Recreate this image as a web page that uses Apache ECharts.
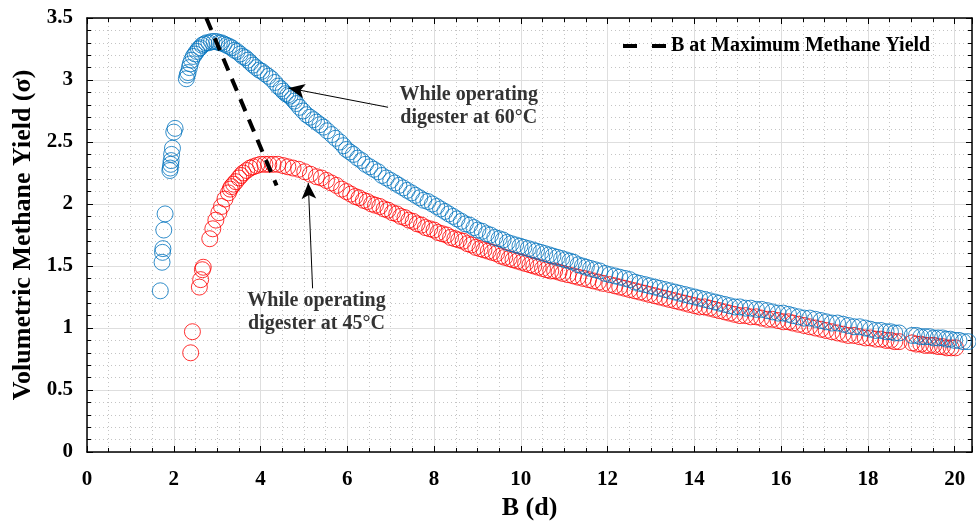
<!DOCTYPE html>
<html>
<head>
<meta charset="utf-8">
<script src="https://cdn.jsdelivr.net/npm/echarts@6/dist/echarts.min.js"></script>
<style>
  html, body { margin: 0; padding: 0; background: #fff; }
  #chart { width: 976px; height: 521px; }
</style>
</head>
<body>
<div id="chart"></div>
<script>
// Volumetric methane yield versus B for two digester temperatures
const seriesNames = ['While operating digester at 60°C', 'While operating digester at 45°C', 'B at Maximum Methane Yield'];

const yield60C = [
  [1.69,1.30],[1.73,1.53],[1.74,1.61],[1.75,1.64],[1.77,1.79],[1.80,1.92],[1.91,2.27],[1.92,2.29],
  [1.93,2.32],[1.94,2.35],[1.95,2.40],[1.97,2.45],[2.00,2.58],[2.03,2.61],
  [2.29,3.01],[2.31,3.04],[2.33,3.06],[2.36,3.10],[2.38,3.13],[2.41,3.16],[2.45,3.19],[2.49,3.21],
  [2.53,3.23],[2.57,3.25],[2.61,3.26],[2.65,3.28],[2.70,3.29],[2.75,3.30],[2.81,3.30],[2.87,3.31],
  [2.93,3.31],[2.99,3.31],[3.05,3.30],[3.10,3.30],[3.16,3.29],[3.22,3.28],[3.28,3.27],[3.34,3.26],
  [3.40,3.24],[3.46,3.23],[3.53,3.21],[3.59,3.19],[3.65,3.18],[3.71,3.16],[3.77,3.14],[3.83,3.12],
  [3.90,3.10],[3.97,3.08],[4.03,3.07],[4.10,3.05],[4.18,3.03],[4.25,3.01],[4.33,2.98],[4.40,2.95],
  [4.47,2.93],[4.52,2.91],[4.58,2.89],[4.63,2.88],[4.68,2.87],[4.73,2.85],[4.78,2.83],[4.83,2.81],
  [4.90,2.78],[4.98,2.75],[5.06,2.72],[5.14,2.70],[5.22,2.68],[5.29,2.66],[5.37,2.64],[5.45,2.62],
  [5.54,2.59],[5.64,2.56],[5.73,2.53],[5.83,2.50],[5.91,2.47],[5.98,2.44],[6.06,2.42],[6.14,2.40],
  [6.24,2.37],[6.33,2.35],[6.42,2.32],[6.52,2.30],[6.61,2.28],[6.71,2.26],[6.80,2.23],[6.90,2.21],
  [7.00,2.19],[7.10,2.17],[7.19,2.15],[7.29,2.13],[7.38,2.11],[7.48,2.09],[7.57,2.07],[7.67,2.05],
  [7.76,2.03],[7.86,2.02],[7.96,2.00],[8.06,1.98],[8.15,1.96],[8.25,1.94],[8.34,1.92],[8.44,1.90],
  [8.53,1.88],[8.63,1.86],[8.72,1.84],[8.82,1.83],[8.92,1.81],[9.01,1.79],[9.11,1.78],[9.21,1.76],
  [9.30,1.75],[9.40,1.73],[9.50,1.72],[9.59,1.71],[9.69,1.69],[9.78,1.68],[9.88,1.67],[9.98,1.66],
  [10.07,1.65],[10.17,1.64],[10.27,1.63],[10.36,1.62],[10.46,1.61],[10.55,1.60],[10.65,1.59],[10.74,1.58],
  [10.84,1.57],[10.94,1.56],[11.03,1.55],[11.13,1.54],[11.22,1.53],[11.32,1.51],[11.42,1.50],[11.51,1.49],
  [11.61,1.48],[11.71,1.47],[11.82,1.46],[11.94,1.44],[12.05,1.43],[12.17,1.42],[12.28,1.41],[12.40,1.40],
  [12.51,1.39],[12.63,1.37],[12.74,1.36],[12.86,1.35],[12.97,1.34],[13.09,1.33],[13.20,1.32],[13.32,1.31],
  [13.43,1.30],[13.55,1.29],[13.66,1.28],[13.78,1.27],[13.89,1.26],[14.01,1.25],[14.12,1.24],[14.24,1.23],
  [14.35,1.22],[14.47,1.21],[14.58,1.20],[14.70,1.19],[14.81,1.18],[14.93,1.17],[15.05,1.17],[15.18,1.16],
  [15.30,1.16],[15.43,1.15],[15.55,1.15],[15.68,1.14],[15.80,1.13],[15.93,1.12],[16.05,1.12],[16.17,1.11],
  [16.27,1.10],[16.40,1.09],[16.53,1.08],[16.66,1.08],[16.79,1.07],[16.92,1.06],[17.04,1.05],[17.17,1.04],
  [17.30,1.04],[17.43,1.03],[17.55,1.02],[17.68,1.01],[17.81,1.01],[17.94,1.00],[18.06,0.99],[18.18,0.98],
  [18.30,0.98],[18.42,0.97],[18.52,0.97],[18.62,0.96],[18.72,0.96],[19.02,0.94],[19.12,0.94],[19.22,0.93],
  [19.32,0.93],[19.42,0.93],[19.52,0.92],[19.62,0.92],[19.72,0.92],[19.81,0.91],[19.90,0.91],[20.00,0.90],
  [20.10,0.90],[20.20,0.89],[20.31,0.89]
];

const yield45C = [
  [2.39,0.80],[2.43,0.97],[2.59,1.33],[2.62,1.39],[2.66,1.47],[2.68,1.49],[2.83,1.72],[2.90,1.80],
  [2.97,1.87],[3.04,1.93],[3.10,1.98],[3.18,2.04],[3.26,2.09],[3.30,2.12],[3.33,2.14],[3.38,2.16],
  [3.43,2.18],[3.50,2.21],[3.55,2.23],[3.60,2.25],[3.68,2.27],[3.76,2.29],[3.83,2.30],[3.91,2.31],
  [4.00,2.32],[4.10,2.32],[4.19,2.32],[4.29,2.32],[4.40,2.32],[4.52,2.31],[4.63,2.30],[4.75,2.29],
  [4.88,2.28],[5.02,2.26],[5.15,2.24],[5.29,2.22],[5.40,2.21],[5.52,2.19],[5.63,2.17],[5.75,2.15],
  [5.87,2.12],[5.98,2.10],[6.08,2.08],[6.18,2.06],[6.27,2.05],[6.37,2.03],[6.46,2.02],[6.56,2.00],
  [6.65,1.99],[6.75,1.98],[6.85,1.96],[6.94,1.95],[7.04,1.93],[7.14,1.92],[7.23,1.90],[7.33,1.89],
  [7.42,1.87],[7.52,1.86],[7.61,1.84],[7.71,1.83],[7.80,1.81],[7.90,1.80],[8.00,1.79],[8.09,1.77],
  [8.19,1.76],[8.29,1.75],[8.38,1.73],[8.48,1.72],[8.57,1.71],[8.67,1.70],[8.77,1.68],[8.86,1.67],
  [8.96,1.65],[9.06,1.64],[9.15,1.63],[9.25,1.62],[9.34,1.61],[9.44,1.60],[9.54,1.58],[9.63,1.57],
  [9.73,1.56],[9.82,1.55],[9.92,1.54],[10.02,1.53],[10.11,1.52],[10.21,1.51],[10.30,1.50],[10.40,1.49],
  [10.50,1.48],[10.59,1.47],[10.69,1.46],[10.78,1.46],[10.88,1.45],[10.97,1.44],[11.09,1.43],[11.21,1.42],
  [11.32,1.41],[11.44,1.40],[11.56,1.39],[11.67,1.38],[11.79,1.37],[11.90,1.36],[12.05,1.35],[12.17,1.34],
  [12.28,1.33],[12.40,1.32],[12.51,1.31],[12.63,1.30],[12.74,1.29],[12.86,1.28],[12.97,1.27],[13.09,1.26],
  [13.20,1.25],[13.32,1.24],[13.43,1.23],[13.55,1.22],[13.66,1.21],[13.78,1.20],[13.89,1.19],[14.01,1.18],
  [14.12,1.17],[14.24,1.17],[14.35,1.16],[14.47,1.15],[14.58,1.14],[14.70,1.13],[14.81,1.12],[14.93,1.11],
  [15.05,1.10],[15.18,1.10],[15.30,1.09],[15.43,1.09],[15.55,1.08],[15.68,1.07],[15.80,1.07],[15.93,1.06],
  [16.05,1.05],[16.17,1.05],[16.27,1.04],[16.40,1.03],[16.53,1.02],[16.66,1.01],[16.79,1.00],[16.92,0.99],
  [17.04,0.98],[17.17,0.97],[17.30,0.96],[17.43,0.95],[17.55,0.94],[17.68,0.94],[17.81,0.93],[17.94,0.92],
  [18.06,0.92],[18.18,0.91],[18.30,0.91],[18.42,0.90],[18.52,0.90],[18.62,0.89],[18.72,0.89],[19.02,0.88],
  [19.12,0.87],[19.22,0.87],[19.32,0.86],[19.42,0.86],[19.52,0.86],[19.62,0.85],[19.72,0.85],[19.82,0.84],
  [19.92,0.84],[20.02,0.84]
];

// Dashed trend through the yield maxima
const maxYieldLine = [[2.75, 3.50], [4.37, 2.15]];

// Callout arrows: [tail, head]
const arrow60 = [[6.94, 2.78], [4.65, 2.935]];
const arrow45 = [[5.20, 1.32], [5.10, 2.17]];
// Callout text anchors
const label60 = [8.80, 2.79];
const label45 = [5.29, 1.13];

const xRange = [0, 20.4];
const yRange = [0, 3.5];
const xStep = 2;
const yStep = 0.5;

const FONT = 'Liberation Serif';
const BLUE = '#0072BD';
const RED = '#FF0000';

const chart = echarts.init(document.getElementById('chart'), null, { renderer: 'canvas' });

function baseX(extra) {
  return Object.assign({
    type: 'value', min: xRange[0], max: xRange[1], interval: xStep,
    axisLine: { show: true, onZero: false, lineStyle: { color: '#000', width: 1.5 } },
    axisTick: { show: true, inside: true, length: 6, lineStyle: { color: '#000', width: 1 } },
    minorTick: { show: true, splitNumber: 4, length: 4, lineStyle: { color: '#000', width: 1 } },
  }, extra);
}
function baseY(extra) {
  return Object.assign({
    type: 'value', min: yRange[0], max: yRange[1], interval: yStep,
    axisLine: { show: true, onZero: false, lineStyle: { color: '#000', width: 1.5 } },
    axisTick: { show: true, inside: true, length: 6, lineStyle: { color: '#000', width: 1 } },
    minorTick: { show: true, splitNumber: 5, length: 4, lineStyle: { color: '#000', width: 1 } },
  }, extra);
}

const option = {
  backgroundColor: '#fff',
  animation: false,
  grid: { left: 87, right: 4, top: 18, bottom: 69, containLabel: false, outerBoundsMode: 'none' },
  legend: {
    data: [{ name: seriesNames[2], icon: 'path://M0,0H14V4H0Z M29,0H43V4H29Z' }],
    left: 623, top: 36,
    itemWidth: 43, itemHeight: 4, itemGap: 8,
    itemStyle: { color: '#000' },
    textStyle: { fontFamily: FONT, fontWeight: 'bold', fontSize: 20, color: '#000' },
    padding: 0
  },
  xAxis: [
    baseX({
      position: 'bottom',
      name: 'B (d)', nameLocation: 'middle', nameGap: 37,
      nameTextStyle: { fontFamily: FONT, fontWeight: 'bold', fontSize: 26, color: '#000' },
      axisLabel: {
        show: true, margin: 17, showMaxLabel: false,
        fontFamily: FONT, fontWeight: 'bold', fontSize: 21, color: '#000'
      },
      splitLine: { show: true, lineStyle: { color: '#dedede', width: 1 } },
      minorSplitLine: { show: true, lineStyle: { color: '#c4c4c4', width: 1, type: [1, 3] } }
    }),
    baseX({
      position: 'top',
      axisLabel: { show: false },
      splitLine: { show: false }
    })
  ],
  yAxis: [
    baseY({
      position: 'left',
      name: 'Volumetric Methane Yield (σ)', nameLocation: 'middle', nameGap: 48,
      nameTextStyle: { fontFamily: FONT, fontWeight: 'bold', fontSize: 26, color: '#000' },
      axisLabel: {
        show: true, margin: 14,
        fontFamily: FONT, fontWeight: 'bold', fontSize: 21, color: '#000'
      },
      splitLine: { show: true, lineStyle: { color: '#dedede', width: 1 } },
      minorSplitLine: { show: true, lineStyle: { color: '#c4c4c4', width: 1, type: [1, 3] } }
    }),
    baseY({
      position: 'right',
      axisLabel: { show: false },
      splitLine: { show: false }
    })
  ],
  series: [
    {
      name: seriesNames[1], type: 'scatter', data: yield45C,
      symbol: 'circle', symbolSize: 16,
      itemStyle: { color: 'rgba(0,0,0,0)', borderColor: RED, borderWidth: 1 },
      emphasis: { disabled: true }, z: 2
    },
    {
      name: seriesNames[0], type: 'scatter', data: yield60C,
      symbol: 'circle', symbolSize: 16,
      itemStyle: { color: 'rgba(0,0,0,0)', borderColor: BLUE, borderWidth: 1 },
      emphasis: { disabled: true }, z: 3
    },
    {
      name: seriesNames[2], type: 'line', data: maxYieldLine,
      symbol: 'none', clip: true,
      lineStyle: { color: '#000', width: 4, type: [13, 9] },
      itemStyle: { color: '#000' },
      z: 4
    },
    {
      name: 'callouts', type: 'scatter', symbolSize: 0,
      data: [
        { value: label60, label: { formatter: 'While operating\ndigester at 60°C' } },
        { value: label45, label: { formatter: 'While operating\ndigester at 45°C' } }
      ],
      label: {
        show: true, position: 'inside', align: 'center', verticalAlign: 'middle',
        fontFamily: FONT, fontWeight: 'bold', fontSize: 20, lineHeight: 23, color: '#000'
      },
      markLine: {
        silent: true, symbol: ['none', 'arrow'], symbolSize: [11, 16],
        lineStyle: { color: '#000', width: 1, type: 'solid' },
        label: { show: false },
        data: [
          [{ coord: arrow60[0] }, { coord: arrow60[1] }],
          [{ coord: arrow45[0] }, { coord: arrow45[1] }]
        ]
      },
      z: 5
    }
  ]
};

chart.setOption(option);
</script>
</body>
</html>
